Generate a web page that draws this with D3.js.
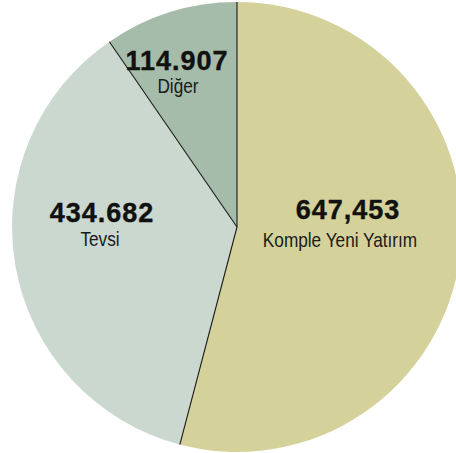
<!DOCTYPE html>
<html>
<head>
<meta charset="utf-8">
<script src="https://cdn.jsdelivr.net/npm/d3@7"></script>
<style>
  html, body { margin: 0; padding: 0; background: #fff; }
  svg { display: block; }
</style>
</head>
<body>
<div id="chart"></div>
<script>
// slices, clockwise from 12 o'clock
const categories = ['Komple Yeni Yatırım', 'Tevsi', 'Diğer'];
const values = [647453, 434682, 114907];
const valueLabels = ['647,453', '434.682', '114.907'];
const colors = ['#d4d29a', '#cbd8cf', '#a5bcaa'];

const W = 456, H = 453;
const CX = 237, CY = 227, R = 225;
const NARROW = 0.82; // fake a condensed face by squeezing Liberation Sans

// label anchor points (value baseline, category baseline)
const labelPos = [
  { x: 348, y: 219, sub: 247, subX: 340 },
  { x: 102, y: 222, sub: 246, subX: 100 },
  { x: 177, y: 70, sub: 93, subX: 178 },
];

const svg = d3.select('#chart').append('svg')
  .attr('width', W).attr('height', H);

const g = svg.append('g').attr('transform', `translate(${CX},${CY})`);

const pie = d3.pie().sort(null).startAngle(0).endAngle(2 * Math.PI);
const arcs = pie(values);
const arc = d3.arc().innerRadius(0).outerRadius(R);

g.selectAll('path.slice')
  .data(arcs)
  .join('path')
  .attr('class', 'slice')
  .attr('d', arc)
  .attr('fill', (d, i) => colors[i]);

// thin dark separators between slices (no outline round the disc)
g.selectAll('line.sep')
  .data(arcs)
  .join('line')
  .attr('class', 'sep')
  .attr('x1', 0).attr('y1', 0)
  .attr('x2', (d) => R * Math.sin(d.startAngle))
  .attr('y2', (d) => -R * Math.cos(d.startAngle))
  .attr('stroke', '#1a1a1a')
  .attr('stroke-width', 1.1);

const labels = svg.append('g');

labels.selectAll('text.val')
  .data(valueLabels)
  .join('text')
  .attr('class', 'val')
  .attr('transform', (d, i) => `translate(${labelPos[i].x},${labelPos[i].y})`)
  .attr('text-anchor', 'middle')
  .attr('font-family', '"Liberation Sans", Arial, sans-serif')
  .attr('font-weight', 700)
  .attr('font-size', '27px')
  .attr('letter-spacing', '1px')
  .attr('stroke', '#111')
  .attr('stroke-width', 0.4)
  .attr('fill', '#111')
  .text((d) => d);

labels.selectAll('text.cat')
  .data(categories)
  .join('text')
  .attr('class', 'cat')
  .attr('transform', (d, i) => `translate(${labelPos[i].subX},${labelPos[i].sub}) scale(${NARROW},1)`)
  .attr('text-anchor', 'middle')
  .attr('font-family', '"Liberation Sans", Arial, sans-serif')
  .attr('font-size', '21px')
  .attr('fill', '#1a1a1a')
  .text((d) => d);
</script>
</body>
</html>
